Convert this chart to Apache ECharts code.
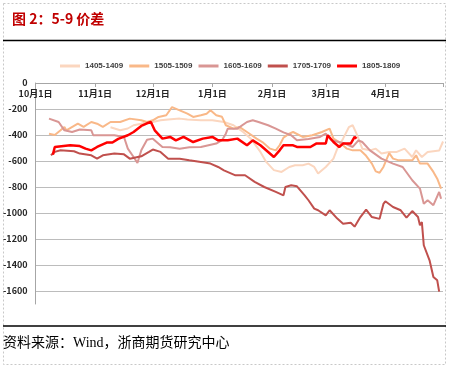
<!DOCTYPE html>
<html>
<head>
<meta charset="utf-8">
<script src="https://cdn.jsdelivr.net/npm/echarts@6/dist/echarts.min.js"></script>
<style>
html,body{margin:0;padding:0;background:#fff;}
#c{width:450px;height:370px;}
</style>
</head>
<body>
<div id="c"></div>
<script>
// ---- Data ----
const monthLabels = [10, 11, 12, 1, 2, 3, 4, 5];
const monthLengths = [31, 30, 31, 31, 28, 31, 30, 1];
const yLabelStep = 200;
const seriesNames = ['1405-1409', '1505-1509', '1605-1609', '1705-1709', '1805-1809'];

// [day offset from 10月1日, spread]
const s1405 = [[39,-340],[44,-364],[48,-350],[51,-325],[55,-313],[58,-300],[61,-300],[65,-287],[69,-280],[75,-274],[79,-280],[86,-287],[92,-287],[98,-300],[103,-325],[108,-377],[112,-428],[117,-530],[120,-607],[124,-670],[128,-684],[132,-646],[135,-633],[139,-633],[142,-620],[145,-646],[147,-697],[148,-710],[151,-646],[155,-582],[157,-505],[160,-428],[163,-340],[165,-325],[167,-390],[170,-505],[174,-518],[177,-505],[180,-543],[184,-530],[188,-530],[192,-505],[196,-569],[198,-518],[201,-569],[204,-530],[207,-525],[210,-520],[212,-450]];
const s1505 = [[7,-390],[10,-400],[13,-364],[15,-338],[16,-364],[22,-313],[25,-338],[29,-300],[32,-313],[35,-338],[39,-300],[44,-300],[49,-274],[55,-287],[58,-300],[61,-287],[64,-261],[68,-248],[71,-185],[75,-210],[79,-236],[82,-261],[86,-248],[89,-236],[91,-210],[94,-248],[97,-260],[99,-325],[103,-351],[106,-338],[110,-377],[115,-428],[118,-454],[122,-505],[125,-518],[127,-479],[129,-420],[132,-390],[134,-377],[139,-415],[144,-402],[149,-377],[153,-351],[155,-428],[158,-454],[162,-505],[165,-518],[169,-518],[172,-560],[175,-620],[177,-680],[179,-690],[181,-646],[184,-540],[186,-582],[189,-595],[193,-595],[196,-595],[198,-556],[200,-620],[204,-620],[207,-684],[209,-736],[211,-812]];
const s1605 = [[7,-274],[12,-300],[15,-364],[19,-377],[23,-358],[29,-364],[30,-402],[35,-402],[41,-402],[46,-415],[48,-505],[51,-569],[53,-615],[55,-518],[58,-436],[61,-428],[66,-492],[70,-495],[75,-505],[80,-495],[86,-492],[94,-466],[97,-440],[99,-390],[100,-351],[105,-351],[110,-300],[113,-287],[116,-300],[121,-325],[125,-351],[129,-380],[133,-402],[136,-441],[142,-430],[148,-415],[151,-390],[154,-441],[161,-466],[165,-492],[168,-441],[170,-454],[174,-518],[180,-582],[186,-620],[191,-646],[196,-748],[200,-812],[202,-928],[204,-902],[207,-940],[210,-838],[211,-890]];
const s1705 = [[8,-556],[10,-530],[13,-518],[20,-525],[23,-543],[29,-556],[32,-582],[35,-556],[41,-543],[46,-549],[49,-582],[55,-564],[59,-530],[61,-512],[65,-530],[69,-582],[75,-582],[80,-595],[86,-607],[91,-620],[95,-646],[98,-672],[99,-684],[104,-710],[109,-710],[114,-761],[119,-800],[125,-838],[129,-864],[130,-800],[133,-787],[136,-795],[140,-864],[142,-902],[145,-966],[147,-979],[151,-1018],[153,-979],[157,-1043],[160,-1082],[164,-1075],[166,-1105],[169,-1031],[172,-974],[175,-1031],[179,-1045],[181,-930],[182,-910],[186,-954],[190,-979],[193,-1035],[196,-985],[199,-1031],[200,-1094],[201,-1070],[202,-1248],[205,-1364],[207,-1492],[209,-1518],[210,-1605]];
const s1805 = [[9,-551],[10,-492],[18,-479],[23,-485],[26,-505],[29,-518],[32,-492],[37,-458],[40,-458],[43,-430],[48,-402],[51,-377],[55,-330],[58,-310],[60,-300],[62,-364],[66,-428],[70,-415],[73,-441],[77,-415],[82,-454],[87,-428],[92,-415],[95,-441],[100,-441],[105,-428],[110,-479],[113,-441],[117,-479],[124,-569],[127,-518],[129,-479],[134,-479],[136,-492],[143,-492],[146,-466],[151,-466],[152,-402],[155,-454],[158,-492],[160,-466],[164,-466],[166,-415],[167,-428]];

// ---- Build categories ----
const categories = [];
const monthStarts = new Set();
monthLabels.forEach((m, i) => {
  for (let d = 1; d <= monthLengths[i]; d++) {
    if (d === 1) monthStarts.add(categories.length);
    categories.push(m + '月' + d + '日');
  }
});
const lastIdx = categories.length - 1;

const colors = ['#fbd6bf', '#f9b888', '#d99694', '#c0504d', '#ff0000'];
const widths = [2, 2, 2, 2, 2.5];
const allData = [s1405, s1505, s1605, s1705, s1805];

const font = "'Noto Sans CJK SC', 'Liberation Sans', sans-serif";

const chart = echarts.init(document.getElementById('c'), null, {renderer: 'canvas'});
chart.setOption({
  animation: false,
  backgroundColor: '#fff',
  legend: {
    top: 57, left: 55,
    itemWidth: 20, itemHeight: 3, itemGap: 6,
    icon: 'rect',
    textStyle: {fontSize: 8, fontWeight: 'bold', color: '#404040', fontFamily: "'Liberation Sans', sans-serif"},
    data: seriesNames
  },
  grid: {left: 35, right: 7, top: 83, bottom: 66, containLabel: false},
  xAxis: {
    type: 'category',
    data: categories,
    boundaryGap: false,
    position: 'top',
    axisLine: {lineStyle: {color: '#a6a6a6', width: 1}},
    axisTick: {
      inside: true, length: 4,
      interval: (idx) => monthStarts.has(idx) || idx === lastIdx,
      lineStyle: {color: '#a6a6a6'}
    },
    axisLabel: {
      inside: true, margin: 6,
      interval: (idx) => monthStarts.has(idx) && idx !== lastIdx,
      fontSize: 9, fontWeight: 'bold', color: '#262626', fontFamily: font
    },
    splitLine: {show: false}
  },
  yAxis: {
    type: 'value',
    min: -1700, max: 0, interval: 100,
    axisLine: {show: true, lineStyle: {color: '#a6a6a6'}},
    axisTick: {show: false},
    axisLabel: {
      formatter: (v) => (v % yLabelStep === 0 ? String(v) : ''),
      fontSize: 9, fontWeight: 'bold', color: '#262626', margin: 8, fontFamily: font
    },
    splitLine: {show: true, lineStyle: {color: ['rgba(0,0,0,0)', '#bcbcbc'], width: 1}}
  },
  series: seriesNames.map((name, i) => ({
    name,
    type: 'line',
    data: allData[i],
    showSymbol: false,
    symbol: 'none',
    lineStyle: {color: colors[i], width: widths[i]},
    itemStyle: {color: colors[i]},
    z: 2 + i
  })),
  graphic: [
    {type: 'rect', shape: {x: 3.5, y: 3.5, width: 442, height: 361}, style: {fill: 'none', stroke: '#c8c8c8', lineWidth: 1, lineDash: [2, 2]}, silent: true},
    {type: 'text', left: 12, top: 12, style: {text: '图 2：5-9 价差', font: "bold 14px 'Noto Sans CJK SC', sans-serif", fill: '#c00000'}},
    {type: 'line', shape: {x1: 3, y1: 40.5, x2: 446, y2: 40.5}, style: {stroke: '#000', lineWidth: 1.5}},
    {type: 'line', shape: {x1: 3, y1: 326, x2: 446, y2: 326}, style: {stroke: '#000', lineWidth: 1.5}},
    {type: 'text', left: 3, top: 336, style: {text: '资料来源：Wind，浙商期货研究中心', font: "14px 'Liberation Serif', 'Noto Sans CJK SC', serif", fill: '#000'}}
  ]
});
</script>
</body>
</html>
